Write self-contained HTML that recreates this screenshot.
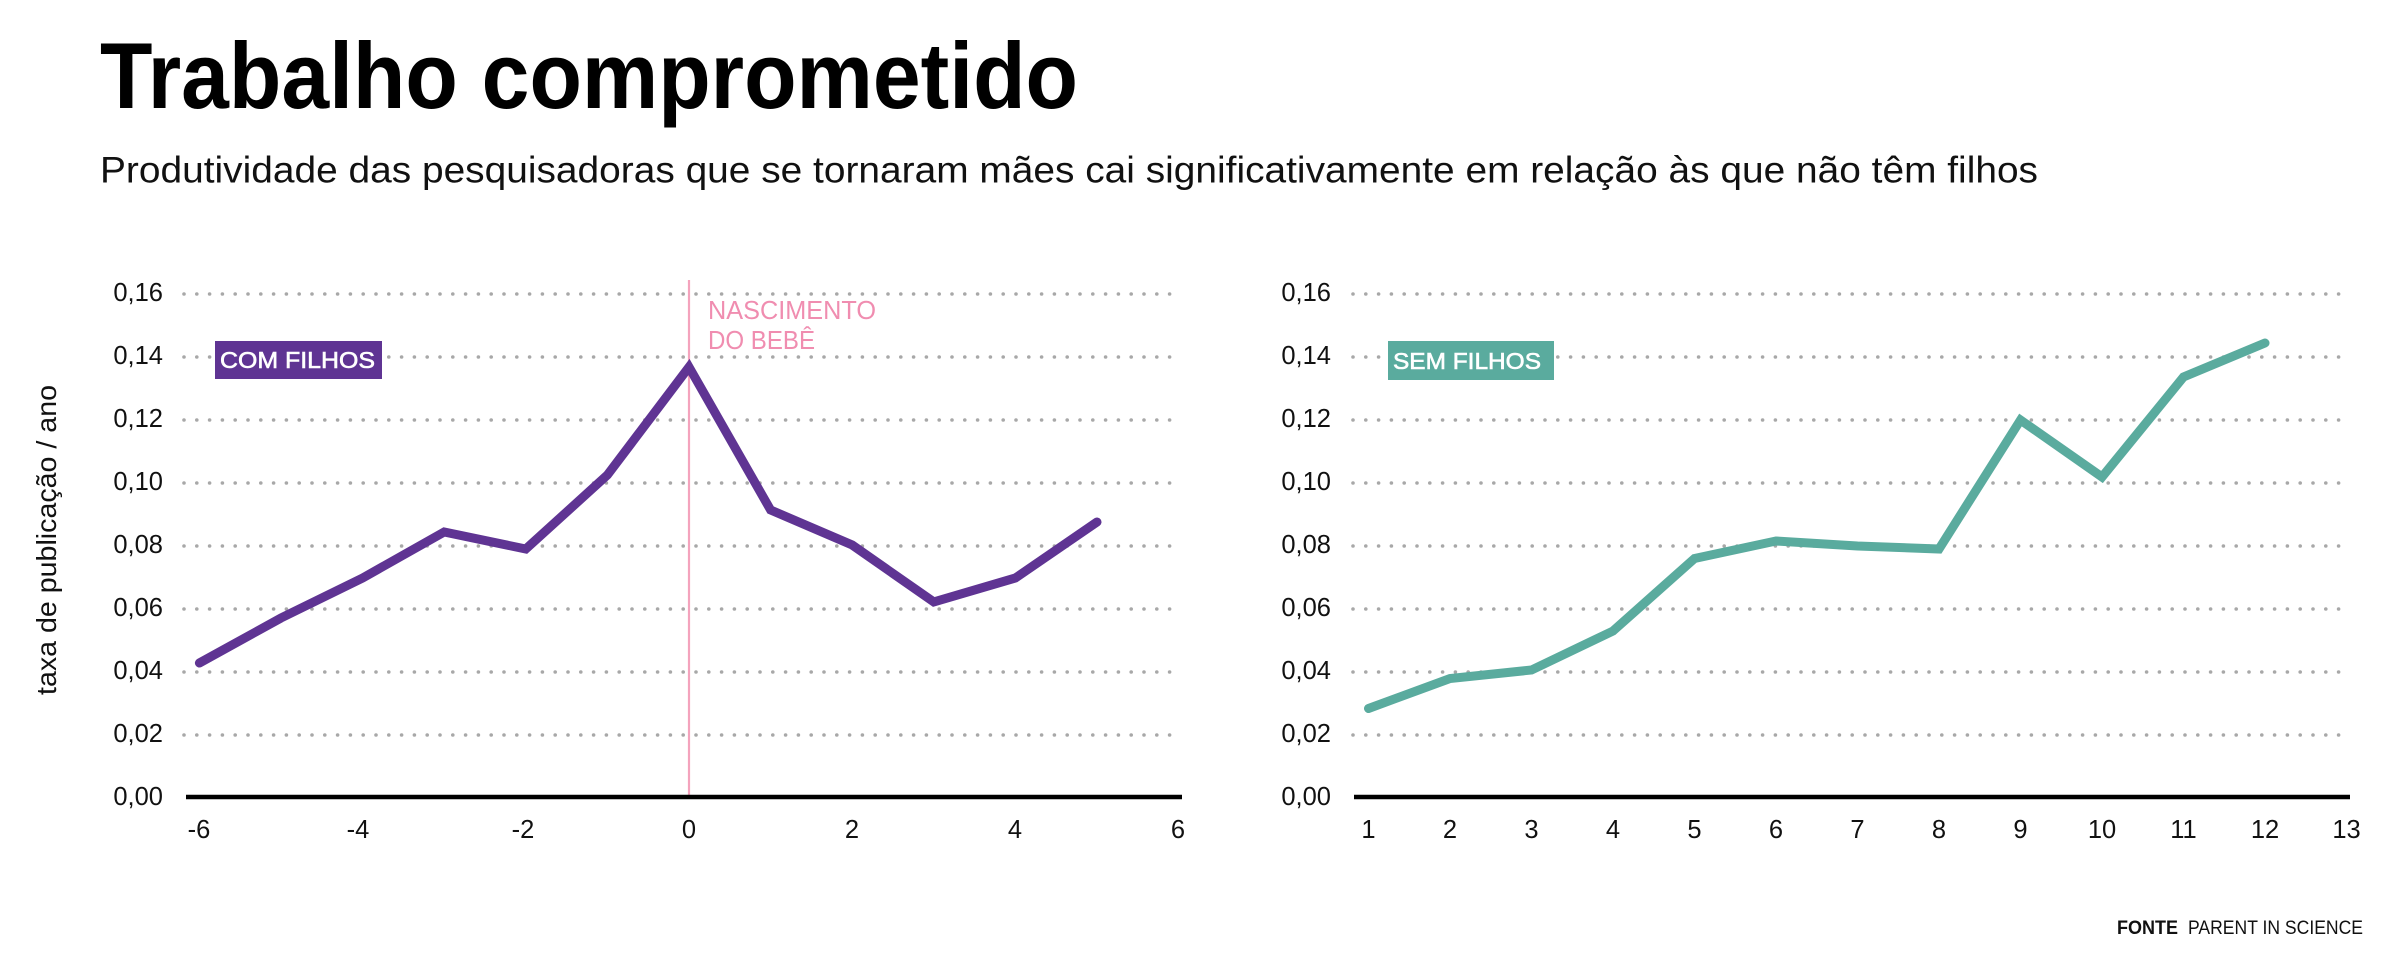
<!DOCTYPE html>
<html>
<head>
<meta charset="utf-8">
<style>
html,body{margin:0;padding:0;background:#fff;}
svg{display:block;}
text{font-family:"Liberation Sans",sans-serif;}
</style>
</head>
<body>
<svg width="2400" height="970" viewBox="0 0 2400 970" xmlns="http://www.w3.org/2000/svg">
<rect width="2400" height="970" fill="#fff"/>

<!-- Title & subtitle -->
<text x="100" y="108" font-size="94" font-weight="bold" fill="#000" textLength="978" lengthAdjust="spacingAndGlyphs">Trabalho comprometido</text>
<text x="100" y="182.5" font-size="37" fill="#111" textLength="1938" lengthAdjust="spacingAndGlyphs">Produtividade das pesquisadoras que se tornaram mães cai significativamente em relação às que não têm filhos</text>

<!-- Y axis title -->
<text transform="translate(56,695) rotate(-90)" font-size="28" fill="#111" textLength="310" lengthAdjust="spacingAndGlyphs">taxa de publicação / ano</text>

<!-- LEFT CHART gridlines -->
<g stroke="#a8a8a8" stroke-width="3.6" stroke-linecap="round" stroke-dasharray="0 12.8">
<line x1="184" y1="294" x2="1182" y2="294"/>
<line x1="184" y1="357" x2="1182" y2="357"/>
<line x1="184" y1="420" x2="1182" y2="420"/>
<line x1="184" y1="483" x2="1182" y2="483"/>
<line x1="184" y1="546" x2="1182" y2="546"/>
<line x1="184" y1="609" x2="1182" y2="609"/>
<line x1="184" y1="672" x2="1182" y2="672"/>
<line x1="184" y1="735" x2="1182" y2="735"/>
</g>
<!-- RIGHT CHART gridlines -->
<g stroke="#a8a8a8" stroke-width="3.6" stroke-linecap="round" stroke-dasharray="0 12.8">
<line x1="1353" y1="294" x2="2350" y2="294"/>
<line x1="1353" y1="357" x2="2350" y2="357"/>
<line x1="1353" y1="420" x2="2350" y2="420"/>
<line x1="1353" y1="483" x2="2350" y2="483"/>
<line x1="1353" y1="546" x2="2350" y2="546"/>
<line x1="1353" y1="609" x2="2350" y2="609"/>
<line x1="1353" y1="672" x2="2350" y2="672"/>
<line x1="1353" y1="735" x2="2350" y2="735"/>
</g>

<!-- Y tick labels left -->
<g font-size="25.5" fill="#111" text-anchor="end">
<text x="163" y="301">0,16</text>
<text x="163" y="364">0,14</text>
<text x="163" y="427">0,12</text>
<text x="163" y="490">0,10</text>
<text x="163" y="553">0,08</text>
<text x="163" y="616">0,06</text>
<text x="163" y="679">0,04</text>
<text x="163" y="742">0,02</text>
<text x="163" y="805">0,00</text>
</g>
<!-- Y tick labels right -->
<g font-size="25.5" fill="#111" text-anchor="end">
<text x="1331" y="301">0,16</text>
<text x="1331" y="364">0,14</text>
<text x="1331" y="427">0,12</text>
<text x="1331" y="490">0,10</text>
<text x="1331" y="553">0,08</text>
<text x="1331" y="616">0,06</text>
<text x="1331" y="679">0,04</text>
<text x="1331" y="742">0,02</text>
<text x="1331" y="805">0,00</text>
</g>

<!-- Pink birth line -->
<line x1="689" y1="280" x2="689" y2="797" stroke="#f4a3bd" stroke-width="2.2"/>
<text x="708" y="319" font-size="25.5" fill="#f08db0" textLength="168" lengthAdjust="spacingAndGlyphs">NASCIMENTO</text>
<text x="708" y="349" font-size="25.5" fill="#f08db0" textLength="107" lengthAdjust="spacingAndGlyphs">DO BEBÊ</text>

<!-- Axes -->
<line x1="186" y1="797" x2="1182" y2="797" stroke="#000" stroke-width="4.5"/>
<line x1="1354" y1="797" x2="2350" y2="797" stroke="#000" stroke-width="4.5"/>

<!-- X tick labels left -->
<g font-size="25.5" fill="#111" text-anchor="middle">
<text x="199" y="838">-6</text>
<text x="358" y="838">-4</text>
<text x="523" y="838">-2</text>
<text x="689" y="838">0</text>
<text x="852" y="838">2</text>
<text x="1015" y="838">4</text>
<text x="1178" y="838">6</text>
</g>
<!-- X tick labels right -->
<g font-size="25.5" fill="#111" text-anchor="middle">
<text x="1368.5" y="838">1</text>
<text x="1450" y="838">2</text>
<text x="1531.5" y="838">3</text>
<text x="1613" y="838">4</text>
<text x="1694.5" y="838">5</text>
<text x="1776" y="838">6</text>
<text x="1857.5" y="838">7</text>
<text x="1939" y="838">8</text>
<text x="2020.5" y="838">9</text>
<text x="2102" y="838">10</text>
<text x="2183.5" y="838">11</text>
<text x="2265" y="838">12</text>
<text x="2346.5" y="838">13</text>
</g>

<!-- Series -->
<polyline fill="none" stroke="#5f3493" stroke-width="9" stroke-linecap="round" stroke-linejoin="miter"
points="199.4,663 281,618 362.6,578 444.2,532 525.8,549 607.4,475 689,367 770.6,510 852.2,545 933.8,602 1015.4,578 1097,522"/>
<polyline fill="none" stroke="#5aab9e" stroke-width="9" stroke-linecap="round" stroke-linejoin="miter"
points="1368.5,708.5 1450,678.5 1531.5,670 1613,631 1694.5,558.5 1776,541 1857.5,546 1939,549 2020.5,420 2102,477 2183.5,377 2265,343"/>

<!-- Legend labels -->
<rect x="215" y="341" width="167" height="38" fill="#5f3493"/>
<text x="220" y="368" font-size="23" fill="#fff" stroke="#fff" stroke-width="0.6" textLength="155" lengthAdjust="spacingAndGlyphs">COM FILHOS</text>
<rect x="1388" y="341" width="166" height="39" fill="#5aab9e"/>
<text x="1393" y="369" font-size="23" fill="#fff" stroke="#fff" stroke-width="0.6" textLength="148" lengthAdjust="spacingAndGlyphs">SEM FILHOS</text>

<!-- Source -->
<text x="2117" y="934" font-size="19.5" font-weight="bold" fill="#111" textLength="61" lengthAdjust="spacingAndGlyphs">FONTE</text>
<text x="2188" y="934" font-size="19.5" fill="#111" textLength="175" lengthAdjust="spacingAndGlyphs">PARENT IN SCIENCE</text>
</svg>
</body>
</html>
